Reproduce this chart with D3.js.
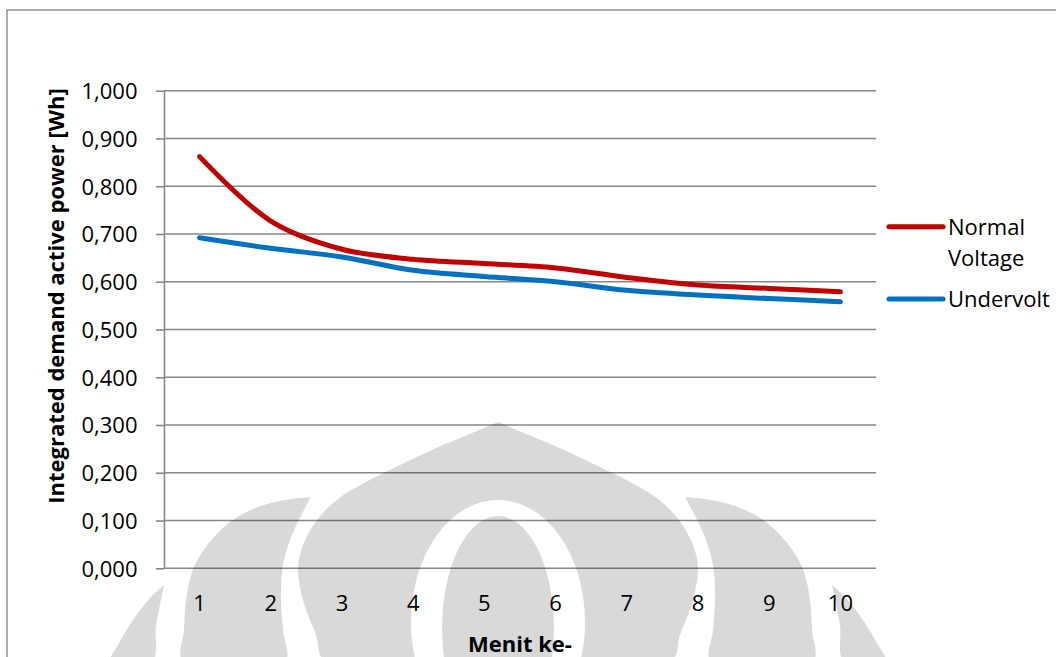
<!DOCTYPE html>
<html>
<head>
<meta charset="utf-8">
<script src="https://cdn.jsdelivr.net/npm/d3@7/dist/d3.min.js"></script>
<style>
  html, body { margin: 0; padding: 0; background: #fff; }
  svg { display: block; }
  text { font-family: "Open Sans", sans-serif; fill: #000; }
</style>
</head>
<body>
<svg id="chart" width="1056" height="657"></svg>
<script>
// Minutes (x categories)
const categories = ["1", "2", "3", "4", "5", "6", "7", "8", "9", "10"];
// Integrated demand active power [Wh] per minute
const normalVoltage = [0.862, 0.727, 0.668, 0.647, 0.638, 0.629, 0.609, 0.593, 0.586, 0.579];
const undervolt     = [0.692, 0.670, 0.652, 0.624, 0.611, 0.600, 0.582, 0.572, 0.565, 0.558];
// Value axis ticks
const yTickValues = [0, 0.1, 0.2, 0.3, 0.4, 0.5, 0.6, 0.7, 0.8, 0.9, 1.0];
const seriesNames = ["Normal Voltage", "Undervolt"];
const seriesColors = ["#C00000", "#0070C0"];

const svg = d3.select("#chart");
const W = 1056, H = 657;

// Plot area
const plot = { left: 164, right: 876, top: 90.7, bottom: 568.3 };

const x = d3.scaleBand().domain(categories).range([plot.left, plot.right]).padding(0);
const y = d3.scaleLinear().domain([0, 1]).range([plot.bottom, plot.top]);
const cx = c => x(c) + x.bandwidth() / 2;

const locale = d3.formatLocale({ decimal: ",", thousands: ".", grouping: [3], currency: ["", ""] });
const fmt = locale.format(".3f");

// Chart area border
svg.append("rect")
  .attr("x", 7).attr("y", 10)
  .attr("width", W + 20).attr("height", H + 20)
  .attr("fill", "none").attr("stroke", "#8a8a8a").attr("stroke-width", 1.4);

// Horizontal gridlines
svg.append("g").selectAll("line").data(yTickValues).join("line")
  .attr("x1", plot.left).attr("x2", plot.right)
  .attr("y1", d => y(d)).attr("y2", d => y(d))
  .attr("stroke", "#878787").attr("stroke-width", 1.6);

// Value axis
const yAxis = svg.append("g")
  .attr("transform", `translate(${plot.left},0)`)
  .call(d3.axisLeft(y).tickValues(yTickValues).tickFormat(fmt)
    .tickSizeInner(8).tickSizeOuter(0).tickPadding(18.5));
yAxis.select(".domain").attr("stroke", "#878787").attr("stroke-width", 1.6);
yAxis.selectAll(".tick line").attr("stroke", "#878787").attr("stroke-width", 1.6);
yAxis.selectAll(".tick text")
  .attr("dy", "0.36em")
  .style("font-family", "'Open Sans', sans-serif")
  .style("font-size", "22px").attr("fill", "#000");

// Category axis
const xAxis = svg.append("g")
  .attr("transform", `translate(0,${plot.bottom})`)
  .call(d3.axisBottom(x).tickSize(0).tickPadding(26.6));
xAxis.select(".domain").remove();
xAxis.selectAll(".tick text")
  .style("font-family", "'Open Sans', sans-serif")
  .style("font-size", "22px").attr("fill", "#000");

// Axis titles
svg.append("text")
  .attr("x", (plot.left + plot.right) / 2).attr("y", 651.5)
  .attr("text-anchor", "middle")
  .style("font-size", "22px").style("font-weight", "bold")
  .text("Menit ke-");

svg.append("text")
  .attr("transform", "translate(63.5,296) rotate(-90)")
  .attr("text-anchor", "middle")
  .style("font-size", "22px").style("font-weight", "bold")
  .text("Integrated demand active power [Wh]");

// Series lines
const line = d3.line()
  .x((d, i) => cx(categories[i]))
  .y(d => y(d))
  .curve(d3.curveCatmullRom.alpha(0.5));

[normalVoltage, undervolt].forEach((vals, k) => {
  svg.append("path")
    .datum(vals)
    .attr("d", line)
    .attr("fill", "none")
    .attr("stroke", seriesColors[k])
    .attr("stroke-width", 5)
    .attr("stroke-linecap", "round")
    .attr("stroke-linejoin", "round");
});

// Legend
const legend = svg.append("g");
const legendRows = [
  { lineY: 226.7, lines: ["Normal", "Voltage"], baseY: 235 },
  { lineY: 299, lines: ["Undervolt"], baseY: 307 }
];
legendRows.forEach((row, k) => {
  legend.append("line")
    .attr("x1", 889).attr("x2", 943)
    .attr("y1", row.lineY).attr("y2", row.lineY)
    .attr("stroke", seriesColors[k]).attr("stroke-width", 5)
    .attr("stroke-linecap", "round");
  const t = legend.append("text")
    .attr("x", 948).attr("y", row.baseY)
    .style("font-size", "22px");
  row.lines.forEach((s, j) => {
    t.append("tspan").attr("x", 948).attr("dy", j === 0 ? 0 : 31).text(s);
  });
});

// Faint emblem watermark in the lower part of the page
const wm = svg.append("g")
  .attr("fill", "#000").attr("fill-opacity", 0.15)
  .style("pointer-events", "none");

const mirror = pts => pts.map(([px, py]) => [996 - px, py]);
const curve = d3.line().curve(d3.curveCatmullRom);

// central dome outline
const domeLeft = [[498, 422], [472, 433], [434, 449], [398, 466], [366, 482], [338, 499],
                  [317, 520], [303, 545], [298, 568], [303, 600], [316, 635], [326, 662]];
const domePts = domeLeft.concat(mirror(domeLeft).reverse().slice(0, -1));
const ellipse = (ecx, ecy, rx, ry) =>
  `M${ecx - rx},${ecy}A${rx},${ry} 0 1,0 ${ecx + rx},${ecy}A${rx},${ry} 0 1,0 ${ecx - rx},${ecy}Z`;
wm.append("path")
  .attr("fill-rule", "evenodd")
  .attr("d", curve(domePts) + "Z" + ellipse(498, 622, 87, 122) + ellipse(498, 628, 56, 112));

// inner leaves
const leafInner = [[311, 497], [285, 500], [258, 507], [230, 522], [205, 548], [192, 572],
                   [186, 600], [184, 630], [183, 662], [285, 662], [283, 630], [281, 600],
                   [283, 565], [292, 535], [304, 510], [311, 497]];
// outer leaves
const leafOuter = [[164, 585], [150, 598], [133, 620], [118, 645], [110, 662],
                   [152, 662], [156, 625], [161, 600], [164, 585]];
[leafInner, mirror(leafInner), leafOuter, mirror(leafOuter)].forEach(pts => {
  wm.append("path").attr("d", curve(pts) + "Z");
});
</script>
</body>
</html>
